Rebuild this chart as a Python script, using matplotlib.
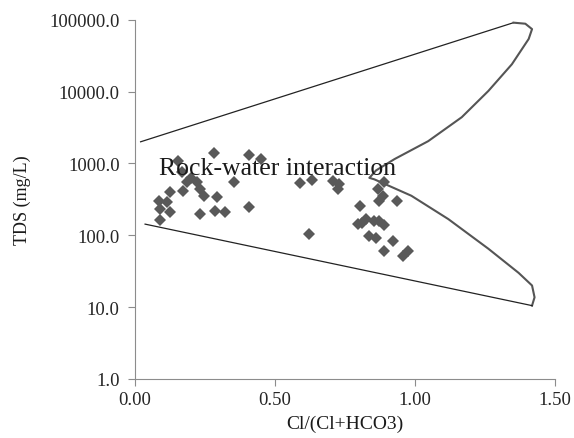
import matplotlib.pyplot as plt
from matplotlib.ticker import FormatStrFormatter, FixedLocator, NullLocator

# sample points: Cl/(Cl+HCO3) ratio and TDS (mg/L)
ratio = [0.281, 0.155, 0.407, 0.449, 0.168, 0.185, 0.221, 0.233, 0.173, 0.245,
         0.293, 0.353, 0.126, 0.084, 0.114, 0.090, 0.126, 0.090, 0.233, 0.285,
         0.321, 0.407, 0.589, 0.632, 0.706, 0.730, 0.724, 0.622, 0.802, 0.891,
         0.867, 0.885, 0.871, 0.937, 0.796, 0.826, 0.855, 0.873, 0.891, 0.837,
         0.861, 0.921, 0.888, 0.957, 0.975, 0.810, 0.200]
tds = [1377, 1086, 1318, 1148, 750, 544, 544, 439, 416, 355,
       343, 544, 395, 302, 287, 231, 208, 164, 197, 219,
       208, 244, 526, 591, 573, 515, 439, 104, 252, 544,
       439, 355, 302, 302, 143, 168, 159, 159, 138, 98,
       93, 84, 61, 52, 61, 150, 620]

# boundary of the rock-water interaction field (Gibbs diagram)
bound_x = [0.02, 1.352, 1.394, 1.418, 1.406, 1.346, 1.262, 1.167, 1.047, 0.927,
           0.861, 0.837, 0.855, 0.987, 1.119, 1.262, 1.370, 1.418, 1.427, 1.418, 0.036]
bound_y = [2000, 91000, 88000, 74000, 54000, 24000, 10200, 4400, 2040, 1150,
           800, 630, 600, 355, 168, 65, 30, 20, 13.7, 10.5, 143]

xticks = [0.0, 0.5, 1.0, 1.5]
yticks = [1, 10, 100, 1000, 10000, 100000]

plt.rcParams['font.family'] = ['Liberation Serif', 'DejaVu Serif']

fig = plt.figure(figsize=(5.74, 4.39), dpi=100)
ax = fig.add_axes([0.2352, 0.1344, 0.7317, 0.8184])

ax.plot(bound_x[0:2], bound_y[0:2], color='#222222', lw=0.9)
ax.plot(bound_x[1:20], bound_y[1:20], color='#555555', lw=1.5)
ax.plot(bound_x[19:21], bound_y[19:21], color='#222222', lw=0.9)
ax.plot(ratio, tds, ls='none', marker='D', markersize=6.5, color='#595959',
        markeredgewidth=0)

ax.text(0.085, 870, 'Rock-water interaction', fontsize=18.5, color='#1a1a1a',
        va='center', ha='left')

ax.set_yscale('log')
ax.set_xlim(0, 1.5)
ax.set_ylim(1, 100000)
ax.xaxis.set_major_locator(FixedLocator(xticks))
ax.yaxis.set_major_locator(FixedLocator(yticks))
ax.yaxis.set_minor_locator(NullLocator())
ax.xaxis.set_major_formatter(FormatStrFormatter('%.2f'))
ax.yaxis.set_major_formatter(FormatStrFormatter('%.1f'))

for s in ['top', 'right']:
    ax.spines[s].set_visible(False)
for s in ['left', 'bottom']:
    ax.spines[s].set_color('#8c8c8c')
ax.tick_params(direction='out', length=5, color='#8c8c8c', labelsize=13.5,
               labelcolor='#262626')
ax.tick_params(axis='y', pad=6)

ax.set_xlabel('Cl/(Cl+HCO3)', fontsize=14, color='#1a1a1a', labelpad=5)
ax.set_ylabel('TDS (mg/L)', fontsize=13, color='#1a1a1a', labelpad=13)

plt.savefig('out.png', dpi=100)
